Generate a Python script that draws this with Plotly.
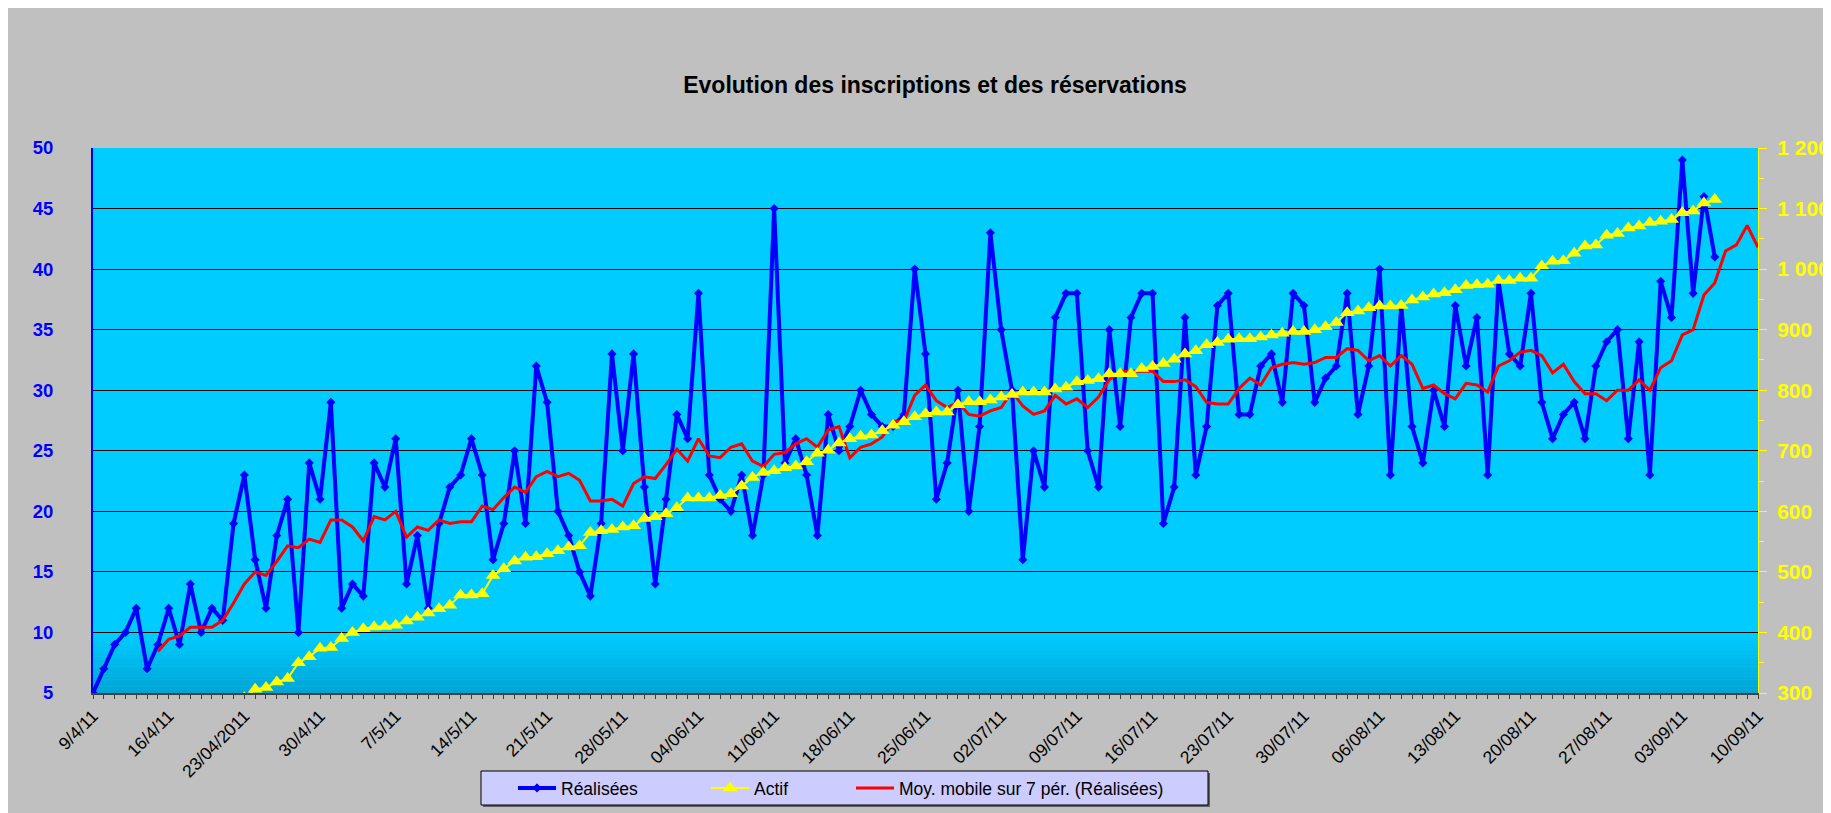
import plotly.graph_objects as go
import pandas as pd

# ---------------- data ----------------
start_date = "2011-04-09"
n_days = 155
days = pd.date_range(start_date, periods=n_days, freq="D")

# daily "Réalisées" (left axis), from 9/4/11
realisees = [
    5, 7, 9, 10, 12, 7, 9, 12, 9, 14,
    10, 12, 11, 19, 23, 16, 12, 18, 21, 10,
    24, 21, 29, 12, 14, 13, 24, 22, 26, 14,
    18, 12, 19, 22, 23, 26, 23, 16, 19, 25,
    19, 32, 29, 20, 18, 15, 13, 19, 33, 25,
    33, 22, 14, 21, 28, 26, 38, 23, 21, 20,
    23, 18, 23, 45, 24, 26, 23, 18, 28, 25,
    27, 30, 28, 27, 27, 28, 40, 33, 21, 24,
    30, 20, 27, 43, 35, 30, 16, 25, 22, 36,
    38, 38, 25, 22, 35, 27, 36, 38, 38, 19,
    22, 36, 23, 27, 37, 38, 28, 28, 32, 33,
    29, 38, 37, 29, 31, 32, 38, 28, 32, 40,
    23, 37, 27, 24, 30, 27, 37, 32, 36, 23,
    39, 33, 32, 38, 29, 26, 28, 29, 26, 32,
    34, 35, 26, 34, 23, 39, 36, 49, 38, 46,
    41,
]

# "Actif" (right axis), starts on day 14 (23/04/2011)
actif_offset = 14
actif = [
    292, 306, 309, 318, 324, 350,
    360, 374, 375, 390, 400, 406, 409, 410, 412, 419,
    425, 432, 439, 445, 462, 462, 464, 494, 505, 518,
    524, 525, 530, 535, 541, 543, 565, 568, 570, 574,
    576, 588, 591, 596, 606, 622, 622, 622, 626, 629,
    642, 656, 664, 667, 672, 675, 682, 696, 701, 713,
    720, 724, 726, 733, 742, 748, 756, 761, 764, 764,
    776, 781, 781, 784, 789, 793, 797, 797, 797, 802,
    805, 814, 816, 819, 827, 827, 827, 836, 839, 844,
    851, 860, 865, 875, 879, 884, 885, 885, 888, 891,
    894, 897, 897, 900, 905, 912, 928, 931, 936, 939,
    939, 940, 949, 954, 959, 961, 966, 973, 974, 975,
    981, 981, 985, 985, 1005, 1013, 1014, 1026, 1038, 1040,
    1056, 1059, 1068, 1071, 1077, 1079, 1082, 1093, 1096, 1109,
    1115,
]

# "Moy. mobile sur 7 pér." (left axis), starts on day 6
moy_offset = 6
moy = [
    8.43, 9.43, 9.71, 10.43,
    10.43, 10.43, 11.00, 12.43, 14.00, 15.00, 14.71, 15.86, 17.14, 17.00,
    17.71, 17.43, 19.29, 19.29, 18.71, 17.57, 19.57, 19.29, 20.00, 17.86,
    18.71, 18.43, 19.29, 19.00, 19.14, 19.14, 20.43, 20.14, 21.14, 22.00,
    21.57, 22.86, 23.29, 22.86, 23.14, 22.57, 20.86, 20.86, 21.00, 20.43,
    22.29, 22.86, 22.71, 23.86, 25.14, 24.14, 26.00, 24.57, 24.43, 25.29,
    25.57, 24.14, 23.71, 24.71, 24.86, 25.57, 26.00, 25.29, 26.71, 27.00,
    24.43, 25.29, 25.57, 26.14, 27.43, 27.43, 29.57, 30.43, 29.14, 28.57,
    29.00, 28.00, 27.86, 28.29, 28.57, 29.86, 28.71, 28.00, 28.29, 29.57,
    28.86, 29.29, 28.57, 29.43, 30.86, 31.57, 31.57, 31.57, 31.57, 30.71,
    30.71, 30.86, 30.29, 29.00, 28.86, 28.86, 30.14, 31.00, 30.43, 31.86,
    32.14, 32.29, 32.14, 32.29, 32.71, 32.71, 33.43, 33.29, 32.43, 32.86,
    32.00, 32.86, 32.14, 30.14, 30.43, 29.71, 29.29, 30.57, 30.43, 29.86,
    32.00, 32.43, 33.14, 33.29, 32.86, 31.43, 32.14, 30.71, 29.71, 29.71,
    29.14, 30.00, 30.00, 30.86, 30.00, 31.86, 32.43, 34.57, 35.00, 37.86,
    38.86, 41.5, 42.0, 43.6, 41.8,
]

tick_labels = ["9/4/11", "16/4/11", "23/04/2011", "30/4/11", "7/5/11", "14/5/11",
               "21/5/11", "28/05/11", "04/06/11", "11/06/11", "18/06/11", "25/06/11",
               "02/07/11", "09/07/11", "16/07/11", "23/07/11", "30/07/11", "06/08/11",
               "13/08/11", "20/08/11", "27/08/11", "03/09/11", "10/09/11"]

# ---------------- geometry ----------------
W, H = 1831, 813
OFF = 8  # page body margin: screenshot px = figure px + 8
L, R, T, B = 85, 81, 140, 128
PW, PH = W - L - R, H - T - B


def px_x(page_px):
    return (page_px - OFF - L) / PW


def px_y(page_py):
    return (H - B - (page_py - OFF)) / PH


FONT = "Arial, Liberation Sans, sans-serif"

fig = go.Figure()

fig.add_trace(go.Scatter(
    x=days[:len(realisees)], y=realisees, name="Réalisées",
    mode="lines+markers",
    line=dict(color="#0000FF", width=4),
    marker=dict(symbol="diamond", size=7, color="#0000FF"),
    legendrank=1, legendwidth=140,
))
fig.add_trace(go.Scatter(
    x=days[moy_offset:moy_offset + len(moy)], y=moy,
    name="Moy. mobile sur 7 pér. (Réalisées)",
    mode="lines",
    line=dict(color="#FF0000", width=3),
    legendrank=3,
))
fig.add_trace(go.Scatter(
    x=days[actif_offset:actif_offset + len(actif)], y=actif, name="Actif",
    yaxis="y2", mode="lines+markers",
    line=dict(color="#FFFF00", width=2),
    marker=dict(symbol="triangle-up", size=13, color="#FFFF00"),
    legendrank=2, legendwidth=92,
))

shapes = []
# gradient at the bottom of the plot area
top_rgb = (0, 204, 255)
bot_rgb = (0, 163, 212)
n_strips = 18
g_lo, g_hi = 5.0, 9.9
for i in range(n_strips):
    v0 = g_lo + (g_hi - g_lo) * i / n_strips
    v1 = g_lo + (g_hi - g_lo) * (i + 1) / n_strips
    f = 1 - (i + 0.5) / n_strips
    c = tuple(round(top_rgb[k] + (bot_rgb[k] - top_rgb[k]) * f) for k in range(3))
    shapes.append(dict(type="rect", xref="paper", yref="y", x0=0, x1=1, y0=v0, y1=v1,
                       fillcolor="rgb(%d,%d,%d)" % c, line=dict(width=0), layer="below"))

# legend box
shapes.append(dict(type="rect", xref="paper", yref="paper", x0=px_x(483), x1=px_x(1210),
                   y0=px_y(807), y1=px_y(773), fillcolor="#606060", line=dict(width=0), layer="below"))
shapes.append(dict(type="rect", xref="paper", yref="paper", x0=px_x(481), x1=px_x(1208),
                   y0=px_y(805), y1=px_y(771), fillcolor="#CCCCFF",
                   line=dict(color="black", width=1), layer="below"))

fig.update_layout(
    width=W, height=H,
    margin=dict(l=L, r=R, t=T, b=B, autoexpand=False),
    paper_bgcolor="#C0C0C0",
    plot_bgcolor="#00CCFF",
    separators=", ",
    font=dict(family=FONT, color="black"),
    title=dict(text="Evolution des inscriptions et des réservations",
               x=(935 - OFF) / W, xanchor="center", y=1 - (85 - OFF) / H, yanchor="middle",
               font=dict(family=FONT, size=23, color="black", weight="bold")),
    showlegend=True,
    legend=dict(orientation="h", x=px_x(513), xanchor="left", y=px_y(770), yanchor="top",
                bgcolor="rgba(0,0,0,0)", borderwidth=0, itemwidth=38,
                font=dict(family=FONT, size=17.5, color="black")),
    shapes=shapes,
    xaxis=dict(
        type="date", range=[days[0], days[-1]],
        tickmode="array", tickvals=list(days),
        ticktext=[tick_labels[i // 7] if i % 7 == 0 else "" for i in range(n_days)],
        tickangle=-45, ticks="outside", ticklen=4, tickwidth=1, tickcolor="#404040",
        showline=True, linecolor="#404040", linewidth=2,
        showgrid=False, zeroline=False,
        tickfont=dict(family=FONT, size=17.5, color="black"),
    ),
    xaxis2=dict(
        type="date", range=[days[0], days[-1]], overlaying="x", anchor="y", side="bottom",
        tickmode="array", tickvals=list(days), ticks="inside", ticklen=4, tickwidth=1,
        tickcolor="#404040", showticklabels=False, showgrid=False, showline=False, zeroline=False,
    ),
    # left axis: labels pushed away from the axis by long transparent ticks
    yaxis=dict(
        range=[5, 50], tick0=5, dtick=5,
        showgrid=True, gridcolor="black", gridwidth=1,
        showline=True, linecolor="#0000FF", linewidth=2,
        ticks="outside", ticklen=34, tickwidth=1, tickcolor="rgba(0,0,0,0)",
        tickfont=dict(family=FONT, size=18.5, color="#0000FF", weight="bold"),
        zeroline=False,
    ),
    # visible short blue ticks of the left axis
    yaxis3=dict(
        range=[5, 50], tick0=5, dtick=5, overlaying="y", side="left", anchor="x",
        showgrid=False, showline=False, zeroline=False, showticklabels=False,
        ticks="outside", ticklen=6, tickwidth=1, tickcolor="#0000FF",
    ),
    yaxis2=dict(
        range=[300, 1200], tick0=300, dtick=100, overlaying="y", side="right",
        showgrid=False, showline=True, linecolor="#FFFF00", linewidth=1,
        ticks="outside", ticklen=8, tickwidth=1, tickcolor="#FFFF00",
        tickfont=dict(family=FONT, size=21, color="#FFFF00", weight="bold"),
        separatethousands=True, zeroline=False, ticklabelstandoff=6,
        minor=dict(dtick=50, tick0=300, ticks="outside", ticklen=5, tickcolor="#FFFF00", showgrid=False),
    ),
)

fig.write_html("out.html")
